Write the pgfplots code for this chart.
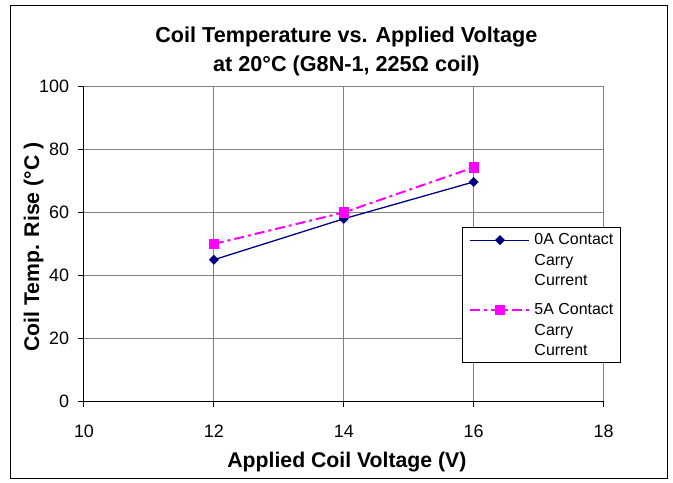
\documentclass[border=0pt]{standalone}
\usepackage{pgfplots}
\pgfplotsset{compat=1.18}
\usepackage{fontspec}
\setmainfont{Liberation Sans}
\definecolor{navyc}{RGB}{0,0,128}
\definecolor{magc}{RGB}{255,0,255}
\definecolor{gridc}{RGB}{128,128,128}
\begin{document}
\begin{tikzpicture}[x=1bp,y=1bp]
\useasboundingbox (-84,-81.5) rectangle (589,401.5);
\draw[black, line width=1bp] (-73,-77.5) rectangle (583,395.5);
\begin{axis}[
  at={(0,0)}, anchor=origin,
  scale only axis, width=519.5bp, height=315bp,
  xmin=10, xmax=18, ymin=0, ymax=100,
  xtick={10,12,...,18}, ytick={0,20,...,100},
  axis x line*=bottom, axis y line*=left,
  grid=major, grid style={gridc, line width=1bp},
  axis line style={black, line width=1bp, -},
  tick align=outside, major tick length=5.5bp,
  tick style={black, line width=1bp},
  /pgf/number format/assume math mode=true,
  tick label style={font=\fontsize{18}{20}\selectfont},
  xticklabel style={anchor=base, yshift=-31bp},
  yticklabel style={xshift=-6bp},
  title={Coil Temperature vs. Applied Voltage\\at 20°C (G8N-1, 225Ω coil)},
  title style={at={(axis description cs:0.505,1)}, anchor=north, align=center,
    font=\bfseries\fontsize{21.7}{28.5}\selectfont, yshift=57bp},
  xlabel={Applied Coil Voltage (V)},
  ylabel={Coil Temp. Rise (°C )},
  label style={font=\bfseries\fontsize{21.3}{24}\selectfont},
  xlabel style={at={(axis description cs:0.506,-0.192)}, anchor=center},
  ylabel style={at={(axis description cs:-0.097,0.49)}, anchor=center},
  legend style={at={(0.7276,0.554)}, anchor=north west,
    font=\fontsize{16}{21}\selectfont,
    draw=black, line width=1bp, fill=white,
    inner xsep=7bp, inner ysep=5.5bp, row sep=15.5bp, column sep=4bp,
    nodes={inner sep=0bp}, cells={align=left}},
  legend cell align=left,
  legend image code/.code={\draw[mark repeat=2,mark phase=2,#1] plot coordinates {(0bp,20bp)(29.5bp,20bp)(59bp,20bp)};},
]
\addplot[navyc, line width=1.3bp, mark=square*, mark size=2.9bp, mark options={solid, fill=navyc, rotate=45}]
  coordinates {(12,45) (14,58) (16,69.7)};
\addlegendentry{0A Contact\\Carry\\Current}
\addplot[magc, line width=2bp, dash pattern=on 10bp off 4bp on 3bp off 4bp, mark=square*, mark size=4.1bp, mark options={solid, fill=magc}]
  coordinates {(12,50) (14,60) (16,74.3)};
\addlegendentry{5A Contact\\Carry\\Current}
\end{axis}
\end{tikzpicture}
\end{document}
